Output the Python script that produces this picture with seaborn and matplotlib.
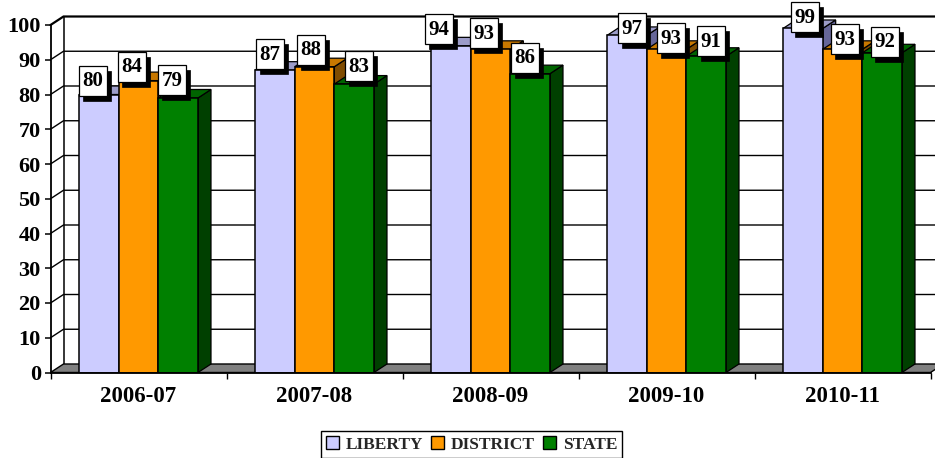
import matplotlib
matplotlib.use('Agg')
import matplotlib.pyplot as plt
from matplotlib.patches import Patch, Polygon, Rectangle
from matplotlib.transforms import IdentityTransform
import pandas as pd
import seaborn as sns

years = ['2006-07', '2007-08', '2008-09', '2009-10', '2010-11']
liberty = [80, 87, 94, 97, 99]
district = [84, 88, 93, 93, 93]
state = [79, 83, 86, 91, 92]

series_names = ['LIBERTY', 'DISTRICT', 'STATE']
front_colors = ['#CCCCFF', '#FF9900', '#008000']
top_colors = ['#9C9CC8', '#C87800', '#006400']
side_colors = ['#666699', '#804C00', '#004000']

# label box nudges in pixels from bar centre / bar top, per year then series
nudge_x = [[-6, -6.5, -6], [-5, -3.5, 5], [-12, -6.5, -5], [5, 4.5, 5], [2.5, 2.5, 2.5]]
nudge_y = [[-14, -14, -17.5], [-16, -17, -18], [-16.5, -16, -16], [-7, -11, -15], [-11, -10, -11]]

W, H = 935, 458
sns.set_theme(style='white')
plt.rcParams['font.family'] = ['Liberation Serif', 'DejaVu Serif']
plt.rcParams['font.weight'] = 'bold'

df = pd.DataFrame({'year': years, 'LIBERTY': liberty, 'DISTRICT': district, 'STATE': state})
df = df.melt(id_vars='year', var_name='series', value_name='value')

fig = plt.figure(figsize=(W / 100, H / 100), dpi=100)
ax = fig.add_axes([50.5 / W, 1 - 372.5 / H, 880 / W, 347.5 / H])

sns.barplot(data=df, x='year', y='value', hue='series', hue_order=series_names,
            order=years, palette=front_colors, width=0.676, gap=0, dodge=True,
            saturation=1, legend=False, edgecolor='black', linewidth=1.1, ax=ax)
ax.set_xlim(-0.5, 4.5)
ax.set_ylim(0, 100)
ax.set_xlabel('')
ax.set_ylabel('')

# depth of the fake 3D box, in data units
dx = 13 / 176
dy = 8.5 / 3.475
x_lo, x_hi = -0.5, 4.5

# floor and back wall
ax.add_patch(Polygon([(x_lo, 0), (x_lo + dx, dy), (x_hi + dx, dy), (x_hi, 0)],
                     closed=True, facecolor='#808080', edgecolor='black', lw=1.0,
                     zorder=1.5, clip_on=False))
for tick in range(10, 101, 10):
    ax.plot([x_lo, x_lo + dx, x_hi + dx], [tick, tick + dy, tick + dy], color='black',
            lw=1.6 if tick == 100 else 1.0, zorder=1, clip_on=False,
            solid_joinstyle='miter')
ax.plot([x_lo + dx, x_lo + dx], [dy, 100 + dy], color='black', lw=1.1, zorder=1, clip_on=False)

# top and side faces, left to right so each front covers the side before it
bars = [b for b in ax.patches if isinstance(b, Rectangle)]
bars = sorted(bars, key=lambda b: b.get_x())
for rank, bar in enumerate(bars):
    series_i = rank % 3
    x0, x1, h = bar.get_x(), bar.get_x() + bar.get_width(), bar.get_height()
    z = 3 + rank * 0.1
    ax.add_patch(Polygon([(x1, 0), (x1 + dx, dy), (x1 + dx, h + dy), (x1, h)], closed=True,
                         facecolor=side_colors[series_i], edgecolor='black', lw=0.9,
                         zorder=z, clip_on=False))
    ax.add_patch(Polygon([(x0, h), (x0 + dx, h + dy), (x1 + dx, h + dy), (x1, h)], closed=True,
                         facecolor=top_colors[series_i], edgecolor='black', lw=0.9,
                         zorder=z, clip_on=False))
    bar.set_zorder(z + 0.05)

# value labels with their hard shadow, placed from the bars in pixels
box_w, box_h = 28, 30
for rank, bar in enumerate(bars):
    year_i, series_i = rank // 3, rank % 3
    cx = bar.get_x() + bar.get_width() / 2
    px, py = ax.transData.transform((cx, bar.get_height()))
    px += nudge_x[year_i][series_i]
    py -= nudge_y[year_i][series_i]
    z = 20 + rank
    ax.add_patch(Rectangle((px - box_w / 2 + 4, py - box_h / 2 - 5), box_w, box_h, facecolor='black',
                           edgecolor='black', lw=0.5, transform=IdentityTransform(),
                           zorder=z, clip_on=False))
    ax.add_patch(Rectangle((px - box_w / 2, py - box_h / 2), box_w, box_h, facecolor='white',
                           edgecolor='black', lw=0.9, transform=IdentityTransform(),
                           zorder=z + 0.1, clip_on=False))
    ax.text(px, py - 0.5, str(int(bar.get_height())), transform=IdentityTransform(), ha='center',
            va='center', fontsize=15, fontweight='bold', color='black', zorder=z + 0.2)

# axes
sns.despine(ax=ax, top=True, right=True)
for side in ['left', 'bottom']:
    ax.spines[side].set_color('black')
    ax.spines[side].set_linewidth(1.3)
    ax.spines[side].set_zorder(10)
ax.set_yticks(range(0, 101, 10))
ax.tick_params(axis='y', left=True, length=4, width=1.1, color='black', pad=3,
               labelsize=16, labelcolor='black')
ax.set_xticks(range(len(years)))
ax.set_xticklabels(years)
ax.set_xticks([i - 0.5 for i in range(len(years) + 1)], minor=True)
ax.tick_params(axis='x', which='major', bottom=False, length=0, pad=10,
               labelsize=16.5, labelcolor='black')
ax.tick_params(axis='x', which='minor', bottom=True, length=4.5, width=1.0, color='black')
for lab in ax.get_xticklabels() + ax.get_yticklabels():
    lab.set_fontweight('bold')

handles = [Patch(facecolor=c, edgecolor='black', lw=1.0, label=n)
           for c, n in zip(front_colors, series_names)]
fig.legend(handles=handles, ncol=3, loc='center', bbox_to_anchor=(471.5 / W, 1 - 444.5 / H),
           bbox_transform=fig.transFigure, frameon=True, fancybox=False, edgecolor='black',
           framealpha=1, prop={'size': 12.5, 'weight': 'bold'}, handlelength=0.75, handleheight=0.75,
           handletextpad=0.4, columnspacing=0.45, borderpad=0.3, borderaxespad=0)

fig.savefig('out.png', dpi=100)
